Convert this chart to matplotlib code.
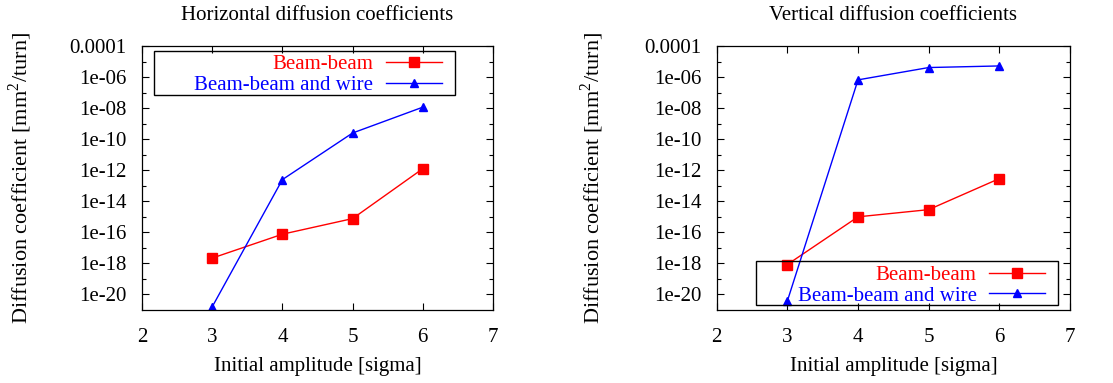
import matplotlib
matplotlib.use("Agg")
import matplotlib.pyplot as plt
from matplotlib.patches import Rectangle
from matplotlib.ticker import FixedLocator, FixedFormatter, NullFormatter

# ---- data ----
amplitude = [3, 4, 5, 6]
h_beambeam = [2.2e-18, 7.6e-17, 7.7e-16, 1.26e-12]
h_beambeam_wire = [1.6e-21, 2.5e-13, 2.5e-10, 1.15e-8]
v_beambeam = [8.5e-19, 1.0e-15, 2.9e-15, 2.9e-13]
v_beambeam_wire = [3.8e-21, 6.6e-7, 4.1e-6, 5.2e-6]

titles = ["Horizontal diffusion coefficients", "Vertical diffusion coefficients"]
series_labels = ["Beam-beam", "Beam-beam and wire"]
xticks = [2, 3, 4, 5, 6, 7]
ytick_vals = [1e-4, 1e-6, 1e-8, 1e-10, 1e-12, 1e-14, 1e-16, 1e-18, 1e-20]
ytick_labels = ["0.0001", "1e-06", "1e-08", "1e-10", "1e-12", "1e-14", "1e-16", "1e-18", "1e-20"]
yminor_vals = [1e-5, 1e-7, 1e-9, 1e-11, 1e-13, 1e-15, 1e-17, 1e-19]

plt.rcParams["font.family"] = ["Liberation Serif", "DejaVu Serif"]
plt.rcParams["mathtext.fontset"] = "custom"
plt.rcParams["mathtext.rm"] = "Liberation Serif"

fig = plt.figure(figsize=(11.13, 3.83), dpi=100)
W, H = 1113, 383

panels = [
    dict(rect=(142, 46, 493, 310), bb=h_beambeam, bbw=h_beambeam_wire,
         box=(153.7, 50.7, 454.7, 95.3), handle_end=442, rows_c=75, ylab_x=34),
    dict(rect=(716.7, 46, 1070, 310), bb=v_beambeam, bbw=v_beambeam_wire,
         box=(756, 261.3, 1058.3, 305.3), handle_end=1045.3, rows_c=285.5, ylab_x=606),
]

FS = 15
for i, p in enumerate(panels):
    x0, y0, x1, y1 = p["rect"]
    ax = fig.add_axes([x0 / W, 1 - y1 / H, (x1 - x0) / W, (y1 - y0) / H])
    aw, ah = x1 - x0, y1 - y0
    ax.set_yscale("log")
    l1, = ax.plot(amplitude, p["bb"], color="#ff0000", lw=1.0, marker="s", ms=7.2,
                  label=series_labels[0])
    l2, = ax.plot(amplitude, p["bbw"], color="#0000ff", lw=1.0, marker="^", ms=6,
                  label=series_labels[1])
    ax.set_xlim(2, 7)
    ax.set_ylim(1e-21, 1e-4)
    ax.xaxis.set_major_locator(FixedLocator(xticks))
    ax.yaxis.set_major_locator(FixedLocator(ytick_vals))
    ax.yaxis.set_major_formatter(FixedFormatter(ytick_labels))
    ax.yaxis.set_minor_locator(FixedLocator(yminor_vals))
    ax.yaxis.set_minor_formatter(NullFormatter())
    ax.tick_params(which="both", direction="in", top=True, right=True, labelsize=FS)
    ax.tick_params(which="major", length=5, width=0.8)
    ax.tick_params(which="minor", length=3, width=0.8)
    ax.tick_params(axis="x", pad=13)
    ax.tick_params(axis="y", pad=11)
    for s in ax.spines.values():
        s.set_linewidth(0.9)
    ax.set_title(titles[i], fontsize=FS, pad=18.5)
    ax.set_xlabel("Initial amplitude [sigma]", fontsize=FS)
    ax.xaxis.set_label_coords(0.5, -(357 - y1) / ah)
    ax.set_ylabel("Diffusion coefficient [mm$^2$/turn]", fontsize=16)
    ax.yaxis.set_label_coords((p["ylab_x"] - x0) / aw, 0.5)

    bx0, by0, bx1, by1 = p["box"]
    ax.add_patch(Rectangle(((bx0 - x0) / aw, 1 - (by1 - y0) / ah), (bx1 - bx0) / aw,
                           (by1 - by0) / ah, transform=ax.transAxes, fill=False,
                           edgecolor="black", lw=1.0, zorder=5, clip_on=False))
    leg = ax.legend(handles=[l1, l2], loc="center right", markerfirst=False,
                    bbox_to_anchor=((p["handle_end"] - x0) / aw, 1 - (p["rows_c"] - y0) / ah),
                    frameon=False, fontsize=FS, borderpad=0, borderaxespad=0,
                    handlelength=2.7, handletextpad=0.6, labelspacing=0.05)
    leg.get_texts()[0].set_color("#ff0000")
    leg.get_texts()[1].set_color("#0000ff")

fig.savefig("out.png", dpi=100)
